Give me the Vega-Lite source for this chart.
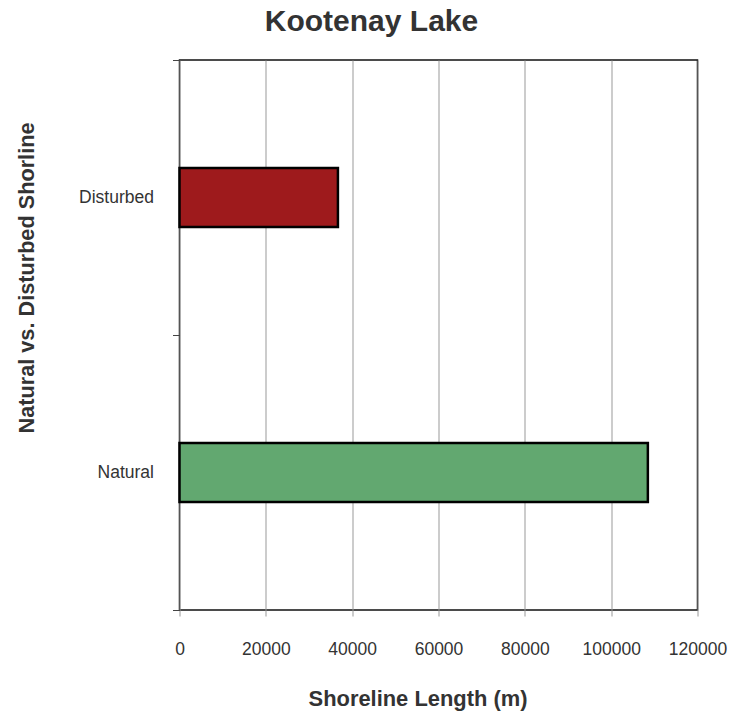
{
  "$schema": "https://vega.github.io/schema/vega-lite/v6.json",
  "width": 518,
  "height": 550,
  "autosize": {"type": "none"},
  "padding": {"left": 179.5, "top": 60, "right": 32.5, "bottom": 105},
  "background": "white",
  "title": {
    "text": "Kootenay Lake",
    "font": "Liberation Sans",
    "fontSize": 30,
    "fontWeight": "bold",
    "color": "#333333",
    "anchor": "middle",
    "frame": "group",
    "dx": -67,
    "dy": 40,
    "baseline": "bottom",
    "offset": 24
  },
  "data": {
    "values": [
      {"category": "Disturbed", "length": 36700},
      {"category": "Natural", "length": 108500}
    ]
  },
  "mark": {"type": "bar", "size": 59, "stroke": "#000000", "strokeWidth": 2.5},
  "encoding": {
    "y": {
      "field": "category",
      "type": "nominal",
      "sort": ["Disturbed", "Natural"],
      "scale": {"paddingInner": 0, "paddingOuter": 0},
      "axis": {
        "title": "Natural vs. Disturbed Shorline",
        "titleFont": "Liberation Sans",
        "titleFontSize": 21.7,
        "titleFontWeight": "bold",
        "titleColor": "#333333",
        "titleAngle": -90,
        "titleX": -146.5,
        "titleY": 217.5,
        "titleAlign": "center",
        "titleBaseline": "alphabetic",
        "labelFont": "Liberation Sans",
        "labelFontSize": 17.5,
        "labelColor": "#333333",
        "labelPadding": 19,
        "tickSize": 7,
        "tickColor": "#444444",
        "tickBand": "extent",
        "grid": false,
        "domain": false
      }
    },
    "x": {
      "field": "length",
      "type": "quantitative",
      "scale": {"domain": [0, 120000], "nice": false},
      "axis": {
        "values": [0, 20000, 40000, 60000, 80000, 100000, 120000],
        "format": "d",
        "title": "Shoreline Length (m)",
        "titleFont": "Liberation Sans",
        "titleFontSize": 21.9,
        "titleFontWeight": "bold",
        "titleColor": "#333333",
        "titleX": 238,
        "titleY": 95,
        "titleAlign": "center",
        "titleBaseline": "alphabetic",
        "labelFont": "Liberation Sans",
        "labelFontSize": 17.5,
        "labelColor": "#333333",
        "labelBaseline": "alphabetic",
        "labelPadding": 38,
        "labelFlush": false,
        "labelOverlap": false,
        "tickSize": 6,
        "tickColor": "#999999",
        "grid": true,
        "gridColor": "#999999",
        "gridWidth": 1,
        "domain": false
      }
    },
    "color": {
      "field": "category",
      "type": "nominal",
      "scale": {"domain": ["Disturbed", "Natural"], "range": ["#9e1a1c", "#62a870"]},
      "legend": null
    }
  },
  "config": {"view": {"stroke": "#111111", "strokeWidth": 1.5}}
}
